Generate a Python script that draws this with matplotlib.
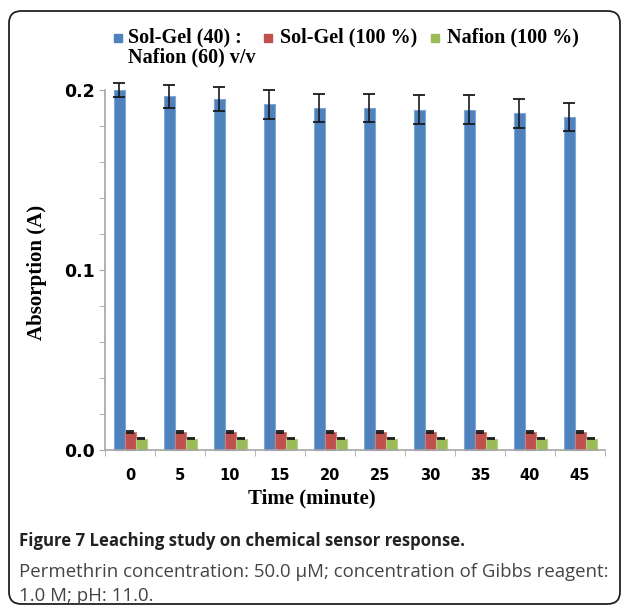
import matplotlib
matplotlib.use("Agg")
import matplotlib.pyplot as plt
from matplotlib.patches import FancyBboxPatch, Rectangle
import numpy as np

# data
times = ["0", "5", "10", "15", "20", "25", "30", "35", "40", "45"]
solgel_nafion = [0.200, 0.1965, 0.195, 0.192, 0.190, 0.190, 0.189, 0.189, 0.187, 0.185]
solgel_nafion_err = [0.0037, 0.0064, 0.0067, 0.0079, 0.0080, 0.0080, 0.0080, 0.0080, 0.0080, 0.0080]
solgel = [0.0100, 0.0100, 0.0100, 0.0100, 0.0100, 0.0100, 0.0100, 0.0100, 0.0100, 0.0100]
solgel_err = [0.0006] * 10
nafion = [0.0062, 0.0062, 0.0062, 0.0062, 0.0062, 0.0062, 0.0062, 0.0062, 0.0062, 0.0062]
nafion_err = [0.0003] * 10

series_labels = ["Sol-Gel (40) :\nNafion (60) v/v", "Sol-Gel (100 %)", "Nafion (100 %)"]
colors = ["#4f81bd", "#c0504d", "#9bbb59"]

serif = "Liberation Serif"
W, H = 629, 609
fig = plt.figure(figsize=(W / 100, H / 100), dpi=100)

# rounded frame around the whole figure
frame = FancyBboxPatch((9 / W, 5 / H), 611 / W, 593 / H,
                       boxstyle="round,pad=0,rounding_size=0.02",
                       transform=fig.transFigure, fill=False,
                       edgecolor="#222222", linewidth=1.3)
fig.patches.append(frame)

ax = fig.add_axes([105 / W, 1 - 450 / H, 500 / W, 360 / H])

x = np.arange(len(times))
bw = 0.22
edges = ["#7ea6d8", "#d27b78", "#b5cf85"]
caps = [4.5, 3, 3]
for off, vals, errs, c, ec, cs in [(-bw, solgel_nafion, solgel_nafion_err, colors[0], edges[0], caps[0]),
                                   (0, solgel, solgel_err, colors[1], edges[1], caps[1]),
                                   (bw, nafion, nafion_err, colors[2], edges[2], caps[2])]:
    ekw = dict(ecolor="#1a1a1a", elinewidth=1.2, capsize=cs, capthick=1.3)
    ax.bar(x + off, vals, bw, yerr=errs, color=c, edgecolor=ec, linewidth=0.8,
           error_kw=ekw, zorder=2)

ax.set_xlim(-0.5, len(times) - 0.5)
ax.set_ylim(0, 0.2)
for child in ax.get_children():
    if hasattr(child, "set_clip_on"):
        child.set_clip_on(False)

ax.spines["top"].set_visible(False)
ax.spines["right"].set_visible(False)
for s in ("left", "bottom"):
    ax.spines[s].set_color("#a6a6a6")
    ax.spines[s].set_linewidth(1.2)

ax.set_yticks([0.0, 0.1, 0.2])
ax.set_yticklabels(["0.0", "0.1", "0.2"], fontsize=12.5, fontweight="bold")
ax.set_yticks(np.arange(0, 0.201, 0.02), minor=True)
ax.tick_params(axis="y", which="both", length=4, color="#a6a6a6", pad=3)

ax.set_xticks(x)
ax.set_xticklabels(times, fontsize=10.5, fontweight="bold")
ax.set_xticks(np.arange(-0.5, len(times)), minor=True)
ax.tick_params(axis="x", which="major", length=0, pad=13)
ax.tick_params(axis="x", which="minor", length=4, color="#a6a6a6")

fig.text(37 / W, 1 - 272 / H, "Absorption (A)", family=serif, fontweight="bold",
         fontsize=15, rotation=90, ha="center", va="center")
fig.text(312 / W, 1 - 498 / H, "Time (minute)", family=serif, fontweight="bold",
         fontsize=15, ha="center", va="center")

# legend drawn by hand to keep the two-line first entry
leg = [(118, 128, series_labels[0]), (268, 280, series_labels[1]), (435, 447, series_labels[2])]
for (mx, tx, lab), c in zip(leg, colors):
    fig.patches.append(Rectangle(((mx - 4) / W, 1 - 42 / H), 8 / W, 8 / H,
                                 transform=fig.transFigure, color=c))
    fig.text(tx / W, 1 - 27 / H, lab, family=serif, fontweight="bold", fontsize=14.5,
             ha="left", va="top", linespacing=1.02)

# caption
fig.text(19 / W, 1 - 541 / H, "Figure 7 Leaching study on chemical sensor response.",
         family="Open Sans", fontweight="bold", fontsize=12.1, color="#222222", va="center")
fig.text(19 / W, 1 - 572 / H,
         "Permethrin concentration: 50.0 \u00b5M; concentration of Gibbs reagent:",
         family="Open Sans", fontsize=13.4, color="#444444", va="center")
fig.text(19 / W, 1 - 596 / H, "1.0 M; pH: 11.0.",
         family="Open Sans", fontsize=13.4, color="#444444", va="center")

fig.savefig("out.png", dpi=100)
